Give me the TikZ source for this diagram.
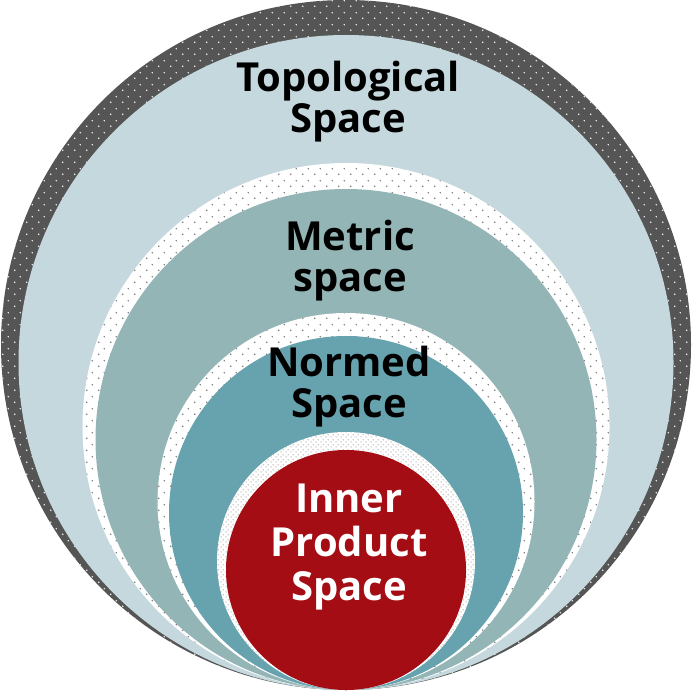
\documentclass[tikz,border=0pt]{standalone}
\usepackage{fontspec}
\setsansfont{Open Sans}
\usetikzlibrary{patterns}

\definecolor{ringgray}{HTML}{555555}
\definecolor{dotgray}{HTML}{7A7A7A}
\definecolor{topoblue}{HTML}{C5D8DE}
\definecolor{metricteal}{HTML}{94B5B6}
\definecolor{normedteal}{HTML}{66A3AE}
\definecolor{innerred}{HTML}{A50D15}

% staggered dots, wide and fine
\pgfdeclarepatternformonly{widedots}{\pgfqpoint{0pt}{0pt}}{\pgfqpoint{12pt}{12pt}}{\pgfqpoint{12pt}{12pt}}{%
  \pgfpathcircle{\pgfqpoint{3pt}{3pt}}{0.9pt}%
  \pgfpathcircle{\pgfqpoint{9pt}{9pt}}{0.9pt}%
  \pgfusepath{fill}}
\pgfdeclarepatternformonly{finedots}{\pgfqpoint{0pt}{0pt}}{\pgfqpoint{5pt}{5pt}}{\pgfqpoint{5pt}{5pt}}{%
  \pgfpathcircle{\pgfqpoint{1.25pt}{1.25pt}}{0.6pt}%
  \pgfpathcircle{\pgfqpoint{3.75pt}{3.75pt}}{0.6pt}%
  \pgfusepath{fill}}

\tikzset{
  spacelabel/.style={font=\sffamily\bfseries\fontsize{40}{41}\selectfont, align=center, anchor=base, inner sep=0pt},
}

\begin{document}
\begin{tikzpicture}[x=1pt,y=-1pt]
    \useasboundingbox (0,0) rectangle (692,692);
    % topological space
    \fill[ringgray] (346,345) circle[radius=345pt];
    \fill[pattern=widedots, pattern color=white!88!gray] (346,345) circle[radius=345pt];
    \fill[topoblue] (346,362.5) circle[radius=327.5pt];
    % metric space
    \fill[white] (346,426.5) circle[radius=263.5pt];
    \fill[pattern=widedots, pattern color=dotgray] (346,426.5) circle[radius=263.5pt];
    \fill[metricteal] (346,439.5) circle[radius=250.5pt];
    % normed space
    \fill[white] (346,501.5) circle[radius=188.5pt];
    \fill[pattern=widedots, pattern color=dotgray] (346,501.5) circle[radius=188.5pt];
    \fill[normedteal] (346,513) circle[radius=177pt];
    % inner product space
    \fill[white] (346,561) circle[radius=129pt];
    \fill[pattern=finedots, pattern color=dotgray] (346,561) circle[radius=129pt];
    \fill[innerred] (346,570) circle[radius=120pt];
    % labels (anchored at the last baseline)
    \node[spacelabel] (topo) at (348,133) {Topological\\Space};
    \node[spacelabel] (metric) at (350,291) {Metric\\space};
    \node[spacelabel] (normed) at (349,417) {Normed\\Space};
    \node[spacelabel, text=white, font=\sffamily\bfseries\fontsize{40}{44}\selectfont] (inner) at (349,600) {Inner\\Product\\Space};
\end{tikzpicture}
\end{document}
